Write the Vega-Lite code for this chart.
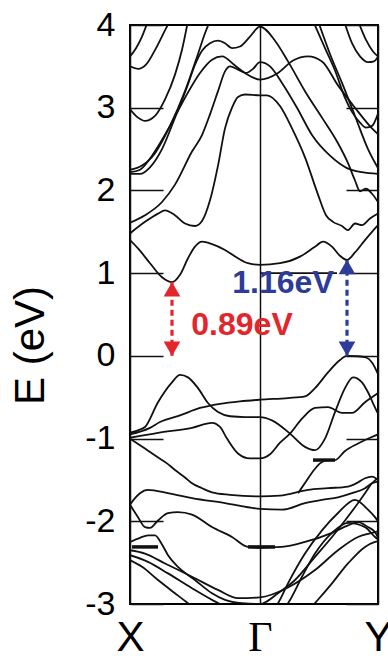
{
  "$schema": "https://vega.github.io/schema/vega-lite/v6.json",
  "width": 248,
  "height": 579,
  "autosize": {"type": "none"},
  "padding": {"left": 130, "top": 25, "right": 10, "bottom": 55},
  "background": "white",
  "config": {
    "view": {"stroke": "black", "strokeWidth": 2},
    "font": "Liberation Sans"
  },
  "datasets": {
    "bands": [
      {"b":"C0","k":130,"E":1.0},{"b":"C0","k":207,"E":1.0},

      {"b":"C1","k":0,"E":1.40},{"b":"C1","k":8,"E":1.30},{"b":"C1","k":20,"E":1.12},{"b":"C1","k":32,"E":0.95},{"b":"C1","k":42,"E":0.89},{"b":"C1","k":50,"E":0.98},{"b":"C1","k":58,"E":1.18},{"b":"C1","k":65,"E":1.32},{"b":"C1","k":72,"E":1.38},{"b":"C1","k":82,"E":1.35},{"b":"C1","k":95,"E":1.28},{"b":"C1","k":108,"E":1.18},{"b":"C1","k":118,"E":1.12},{"b":"C1","k":130,"E":1.10},{"b":"C1","k":150,"E":1.12},{"b":"C1","k":170,"E":1.20},{"b":"C1","k":185,"E":1.32},{"b":"C1","k":193,"E":1.38},{"b":"C1","k":202,"E":1.32},{"b":"C1","k":210,"E":1.21},{"b":"C1","k":217,"E":1.16},{"b":"C1","k":225,"E":1.25},{"b":"C1","k":235,"E":1.40},{"b":"C1","k":242,"E":1.50},{"b":"C1","k":248,"E":1.58},

      {"b":"C2","k":0,"E":1.48},{"b":"C2","k":15,"E":1.62},{"b":"C2","k":28,"E":1.72},{"b":"C2","k":35,"E":1.76},{"b":"C2","k":45,"E":1.70},{"b":"C2","k":55,"E":1.60},{"b":"C2","k":65,"E":1.57},{"b":"C2","k":72,"E":1.63},{"b":"C2","k":80,"E":1.88},{"b":"C2","k":88,"E":2.30},{"b":"C2","k":95,"E":2.75},{"b":"C2","k":102,"E":3.00},{"b":"C2","k":108,"E":3.13},{"b":"C2","k":115,"E":3.16},{"b":"C2","k":130,"E":3.15},{"b":"C2","k":137,"E":3.15},{"b":"C2","k":150,"E":3.02},{"b":"C2","k":162,"E":2.75},{"b":"C2","k":175,"E":2.40},{"b":"C2","k":188,"E":1.95},{"b":"C2","k":196,"E":1.70},{"b":"C2","k":203,"E":1.62},{"b":"C2","k":212,"E":1.57},{"b":"C2","k":218,"E":1.52},{"b":"C2","k":225,"E":1.60},{"b":"C2","k":232,"E":1.58},{"b":"C2","k":240,"E":1.66},{"b":"C2","k":248,"E":1.72},

      {"b":"C3","k":0,"E":1.61},{"b":"C3","k":15,"E":1.70},{"b":"C3","k":32,"E":1.86},{"b":"C3","k":45,"E":2.07},{"b":"C3","k":62,"E":2.47},{"b":"C3","k":72,"E":2.67},{"b":"C3","k":80,"E":2.92},{"b":"C3","k":88,"E":3.20},{"b":"C3","k":95,"E":3.44},{"b":"C3","k":100,"E":3.50},{"b":"C3","k":108,"E":3.46},{"b":"C3","k":116,"E":3.42},{"b":"C3","k":123,"E":3.47},{"b":"C3","k":130,"E":3.55},{"b":"C3","k":140,"E":3.50},{"b":"C3","k":152,"E":3.30},{"b":"C3","k":167,"E":3.00},{"b":"C3","k":182,"E":2.67},{"b":"C3","k":200,"E":2.42},{"b":"C3","k":217,"E":2.27},{"b":"C3","k":232,"E":2.22},{"b":"C3","k":248,"E":2.20},

      {"b":"C4","k":0,"E":2.22},{"b":"C4","k":10,"E":2.25},{"b":"C4","k":22,"E":2.42},{"b":"C4","k":40,"E":2.78},{"b":"C4","k":55,"E":3.12},{"b":"C4","k":70,"E":3.42},{"b":"C4","k":82,"E":3.58},{"b":"C4","k":92,"E":3.62},{"b":"C4","k":105,"E":3.51},{"b":"C4","k":115,"E":3.42},{"b":"C4","k":130,"E":3.34},{"b":"C4","k":148,"E":3.42},{"b":"C4","k":163,"E":3.57},{"b":"C4","k":178,"E":3.62},{"b":"C4","k":192,"E":3.56},{"b":"C4","k":208,"E":3.27},{"b":"C4","k":225,"E":3.00},{"b":"C4","k":242,"E":2.75},{"b":"C4","k":248,"E":2.68},

      {"b":"C5","k":0,"E":2.20},{"b":"C5","k":10,"E":2.20},{"b":"C5","k":20,"E":2.28},{"b":"C5","k":32,"E":2.50},{"b":"C5","k":45,"E":2.88},{"b":"C5","k":57,"E":3.25},{"b":"C5","k":65,"E":3.52},{"b":"C5","k":72,"E":3.69},{"b":"C5","k":80,"E":3.78},{"b":"C5","k":88,"E":3.81},{"b":"C5","k":95,"E":3.78},{"b":"C5","k":102,"E":3.72},{"b":"C5","k":110,"E":3.74},{"b":"C5","k":120,"E":3.86},{"b":"C5","k":130,"E":3.98},{"b":"C5","k":145,"E":3.81},{"b":"C5","k":158,"E":3.56},{"b":"C5","k":175,"E":3.20},{"b":"C5","k":192,"E":2.88},{"b":"C5","k":208,"E":2.57},{"b":"C5","k":218,"E":2.33},{"b":"C5","k":225,"E":2.12},{"b":"C5","k":230,"E":1.99},{"b":"C5","k":236,"E":2.02},{"b":"C5","k":242,"E":1.96},{"b":"C5","k":248,"E":1.86},

      {"b":"C6","k":0,"E":2.25},{"b":"C6","k":12,"E":2.30},{"b":"C6","k":25,"E":2.45},{"b":"C6","k":40,"E":2.78},{"b":"C6","k":55,"E":3.20},{"b":"C6","k":68,"E":3.65},{"b":"C6","k":75,"E":3.90},{"b":"C6","k":80,"E":4.05},

      {"b":"LA","k":0,"E":3.62},{"b":"LA","k":6,"E":3.72},{"b":"LA","k":12,"E":3.86},{"b":"LA","k":18,"E":4.05},
      {"b":"LB","k":0,"E":3.50},{"b":"LB","k":8,"E":3.47},{"b":"LB","k":16,"E":3.52},{"b":"LB","k":26,"E":3.72},{"b":"LB","k":36,"E":3.96},{"b":"LB","k":40,"E":4.05},
      {"b":"LC","k":0,"E":2.98},{"b":"LC","k":8,"E":2.88},{"b":"LC","k":15,"E":2.84},{"b":"LC","k":25,"E":2.90},{"b":"LC","k":35,"E":3.10},{"b":"LC","k":45,"E":3.40},{"b":"LC","k":52,"E":3.70},{"b":"LC","k":58,"E":4.05},

      {"b":"RA","k":183,"E":4.05},{"b":"RA","k":195,"E":3.72},{"b":"RA","k":205,"E":3.45},{"b":"RA","k":215,"E":3.12},{"b":"RA","k":222,"E":2.95},{"b":"RA","k":230,"E":2.82},{"b":"RA","k":236,"E":2.76},{"b":"RA","k":242,"E":2.78},{"b":"RA","k":248,"E":2.93},
      {"b":"RB","k":188,"E":4.05},{"b":"RB","k":200,"E":3.65},{"b":"RB","k":212,"E":3.30},{"b":"RB","k":225,"E":2.90},{"b":"RB","k":238,"E":2.50},{"b":"RB","k":248,"E":2.27},
      {"b":"RC","k":214,"E":4.05},{"b":"RC","k":222,"E":3.78},{"b":"RC","k":230,"E":3.62},{"b":"RC","k":238,"E":3.55},{"b":"RC","k":244,"E":3.56},{"b":"RC","k":248,"E":3.62},
      {"b":"RD","k":228,"E":4.05},{"b":"RD","k":236,"E":3.82},{"b":"RD","k":243,"E":3.68},{"b":"RD","k":248,"E":3.62},

      {"b":"V1","k":0,"E":-0.93},{"b":"V1","k":8,"E":-0.90},{"b":"V1","k":15,"E":-0.86},{"b":"V1","k":28,"E":-0.56},{"b":"V1","k":42,"E":-0.32},{"b":"V1","k":50,"E":-0.23},{"b":"V1","k":58,"E":-0.26},{"b":"V1","k":68,"E":-0.39},{"b":"V1","k":78,"E":-0.57},{"b":"V1","k":88,"E":-0.68},{"b":"V1","k":100,"E":-0.73},{"b":"V1","k":115,"E":-0.74},{"b":"V1","k":130,"E":-0.74},{"b":"V1","k":142,"E":-0.78},{"b":"V1","k":160,"E":-0.94},{"b":"V1","k":175,"E":-1.10},{"b":"V1","k":185,"E":-1.14},{"b":"V1","k":195,"E":-1.00},{"b":"V1","k":205,"E":-0.68},{"b":"V1","k":215,"E":-0.39},{"b":"V1","k":223,"E":-0.26},{"b":"V1","k":232,"E":-0.32},{"b":"V1","k":238,"E":-0.44},{"b":"V1","k":244,"E":-0.60},{"b":"V1","k":248,"E":-0.70},

      {"b":"V2","k":0,"E":-0.95},{"b":"V2","k":20,"E":-0.87},{"b":"V2","k":30,"E":-0.80},{"b":"V2","k":50,"E":-0.72},{"b":"V2","k":70,"E":-0.63},{"b":"V2","k":90,"E":-0.58},{"b":"V2","k":110,"E":-0.55},{"b":"V2","k":130,"E":-0.53},{"b":"V2","k":158,"E":-0.51},{"b":"V2","k":175,"E":-0.49},{"b":"V2","k":185,"E":-0.39},{"b":"V2","k":198,"E":-0.20},{"b":"V2","k":210,"E":-0.05},{"b":"V2","k":217,"E":0.0},{"b":"V2","k":228,"E":-0.005},{"b":"V2","k":236,"E":-0.02},{"b":"V2","k":242,"E":-0.08},{"b":"V2","k":248,"E":-0.22},

      {"b":"V3","k":0,"E":-0.99},{"b":"V3","k":28,"E":-0.93},{"b":"V3","k":62,"E":-0.87},{"b":"V3","k":82,"E":-0.81},{"b":"V3","k":90,"E":-0.86},{"b":"V3","k":97,"E":-1.00},{"b":"V3","k":108,"E":-1.18},{"b":"V3","k":120,"E":-1.24},{"b":"V3","k":130,"E":-1.24},{"b":"V3","k":140,"E":-1.19},{"b":"V3","k":150,"E":-1.05},{"b":"V3","k":160,"E":-0.94},{"b":"V3","k":172,"E":-0.76},{"b":"V3","k":185,"E":-0.63},{"b":"V3","k":198,"E":-0.62},{"b":"V3","k":212,"E":-0.69},{"b":"V3","k":222,"E":-0.69},{"b":"V3","k":235,"E":-0.56},{"b":"V3","k":242,"E":-0.50},{"b":"V3","k":248,"E":-0.45},

      {"b":"V4","k":0,"E":-1.00},{"b":"V4","k":15,"E":-1.12},{"b":"V4","k":27,"E":-1.22},{"b":"V4","k":37,"E":-1.30},{"b":"V4","k":45,"E":-1.38},{"b":"V4","k":55,"E":-1.47},{"b":"V4","k":62,"E":-1.54},{"b":"V4","k":72,"E":-1.60},{"b":"V4","k":82,"E":-1.65},{"b":"V4","k":100,"E":-1.68},{"b":"V4","k":130,"E":-1.70},{"b":"V4","k":150,"E":-1.69},{"b":"V4","k":178,"E":-1.62},{"b":"V4","k":198,"E":-1.60},{"b":"V4","k":218,"E":-1.58},{"b":"V4","k":228,"E":-1.53},{"b":"V4","k":235,"E":-1.48},{"b":"V4","k":242,"E":-1.46},{"b":"V4","k":248,"E":-1.50},

      {"b":"V5","k":0,"E":-1.80},{"b":"V5","k":5,"E":-1.72},{"b":"V5","k":10,"E":-1.66},{"b":"V5","k":18,"E":-1.62},{"b":"V5","k":38,"E":-1.66},{"b":"V5","k":62,"E":-1.72},{"b":"V5","k":95,"E":-1.78},{"b":"V5","k":130,"E":-1.85},{"b":"V5","k":152,"E":-1.86},{"b":"V5","k":175,"E":-1.78},{"b":"V5","k":192,"E":-1.74},{"b":"V5","k":208,"E":-1.71},{"b":"V5","k":222,"E":-1.66},{"b":"V5","k":235,"E":-1.60},{"b":"V5","k":242,"E":-1.54},{"b":"V5","k":248,"E":-1.52},

      {"b":"V6","k":0,"E":-1.80},{"b":"V6","k":8,"E":-1.95},{"b":"V6","k":15,"E":-2.07},{"b":"V6","k":20,"E":-2.08},{"b":"V6","k":28,"E":-1.99},{"b":"V6","k":38,"E":-1.90},{"b":"V6","k":48,"E":-1.89},{"b":"V6","k":62,"E":-1.92},{"b":"V6","k":82,"E":-2.07},{"b":"V6","k":102,"E":-2.19},{"b":"V6","k":118,"E":-2.31},{"b":"V6","k":130,"E":-2.32},{"b":"V6","k":152,"E":-2.31},{"b":"V6","k":175,"E":-2.25},{"b":"V6","k":202,"E":-2.14},{"b":"V6","k":218,"E":-2.05},{"b":"V6","k":228,"E":-2.01},{"b":"V6","k":238,"E":-2.07},{"b":"V6","k":245,"E":-2.13},{"b":"V6","k":248,"E":-2.20},

      {"b":"V7","k":168,"E":-1.66},{"b":"V7","k":176,"E":-1.52},{"b":"V7","k":184,"E":-1.38},{"b":"V7","k":190,"E":-1.30},{"b":"V7","k":198,"E":-1.26},{"b":"V7","k":205,"E":-1.26},{"b":"V7","k":215,"E":-1.15},{"b":"V7","k":228,"E":-1.06},{"b":"V7","k":240,"E":-0.99},{"b":"V7","k":248,"E":-0.95},

      {"b":"W1","k":0,"E":-2.25},{"b":"W1","k":10,"E":-2.20},{"b":"W1","k":18,"E":-2.17},{"b":"W1","k":25,"E":-2.17},{"b":"W1","k":32,"E":-2.28},{"b":"W1","k":38,"E":-2.41},{"b":"W1","k":48,"E":-2.55},{"b":"W1","k":65,"E":-2.71},{"b":"W1","k":82,"E":-2.87},{"b":"W1","k":95,"E":-2.95},{"b":"W1","k":112,"E":-2.99},{"b":"W1","k":130,"E":-3.0},{"b":"W1","k":148,"E":-2.87},{"b":"W1","k":165,"E":-2.71},{"b":"W1","k":185,"E":-2.43},{"b":"W1","k":202,"E":-2.19},{"b":"W1","k":215,"E":-1.99},{"b":"W1","k":225,"E":-1.83},{"b":"W1","k":235,"E":-1.66},{"b":"W1","k":242,"E":-1.54},{"b":"W1","k":248,"E":-1.48},

      {"b":"W2","k":0,"E":-2.35},{"b":"W2","k":15,"E":-2.39},{"b":"W2","k":35,"E":-2.51},{"b":"W2","k":62,"E":-2.67},{"b":"W2","k":88,"E":-2.83},{"b":"W2","k":108,"E":-2.93},{"b":"W2","k":130,"E":-2.92},{"b":"W2","k":158,"E":-2.80},{"b":"W2","k":185,"E":-2.59},{"b":"W2","k":208,"E":-2.35},{"b":"W2","k":228,"E":-2.19},{"b":"W2","k":242,"E":-2.14},{"b":"W2","k":248,"E":-2.12},

      {"b":"W3","k":0,"E":-2.41},{"b":"W3","k":18,"E":-2.49},{"b":"W3","k":38,"E":-2.63},{"b":"W3","k":62,"E":-2.81},{"b":"W3","k":82,"E":-2.95},{"b":"W3","k":90,"E":-3.0},{"b":"W3","k":98,"E":-3.06},
      {"b":"W4","k":143,"E":-3.06},{"b":"W4","k":148,"E":-2.99},{"b":"W4","k":158,"E":-2.75},{"b":"W4","k":175,"E":-2.39},{"b":"W4","k":192,"E":-2.11},{"b":"W4","k":208,"E":-1.90},{"b":"W4","k":225,"E":-1.74},{"b":"W4","k":238,"E":-1.86},{"b":"W4","k":245,"E":-1.95},{"b":"W4","k":248,"E":-2.00},
      {"b":"W5","k":0,"E":-2.47},{"b":"W5","k":12,"E":-2.55},{"b":"W5","k":28,"E":-2.71},{"b":"W5","k":45,"E":-2.87},{"b":"W5","k":58,"E":-2.99},{"b":"W5","k":66,"E":-3.06},
      {"b":"W6","k":153,"E":-3.06},{"b":"W6","k":158,"E":-2.99},{"b":"W6","k":172,"E":-2.67},{"b":"W6","k":185,"E":-2.39},{"b":"W6","k":202,"E":-2.14},{"b":"W6","k":218,"E":-2.02},{"b":"W6","k":235,"E":-2.07},{"b":"W6","k":245,"E":-2.19},{"b":"W6","k":248,"E":-2.22},
      {"b":"W7","k":180,"E":-3.06},{"b":"W7","k":185,"E":-2.99},{"b":"W7","k":202,"E":-2.75},{"b":"W7","k":218,"E":-2.51},{"b":"W7","k":235,"E":-2.31},{"b":"W7","k":245,"E":-2.25},{"b":"W7","k":248,"E":-2.24}
    ],
    "flatPieces": [
      {"p":"a","k":2,"E":-2.31},{"p":"a","k":28,"E":-2.31},
      {"p":"b","k":118,"E":-2.31},{"p":"b","k":145,"E":-2.31},
      {"p":"c","k":183,"E":-1.26},{"p":"c","k":205,"E":-1.26}
    ],
    "gaps": [
      {"gap":"0.89eV","k":42,"lo":0,"hi":0.89,"labelK":112,"labelE":0.37},
      {"gap":"1.16eV","k":217,"lo":0,"hi":1.16,"labelK":153,"labelE":0.88}
    ]
  },
  "layer": [
    {
      "data": {"name": "bands"},
      "mark": {"type": "line", "interpolate": "monotone", "clip": true, "color": "#111111", "strokeWidth": 1.8},
      "encoding": {
        "x": {
          "field": "k", "type": "quantitative",
          "scale": {"domain": [0, 248], "nice": false, "zero": false},
          "axis": {
            "orient": "bottom", "values": [0, 130, 248],
            "labelExpr": "datum.value == 0 ? 'X' : datum.value == 130 ? 'Γ' : 'Y'",
            "labelFont": {"condition": {"test": "datum.value == 130", "value": "Liberation Serif"}, "value": "Liberation Sans"},
            "ticks": false, "domain": false,
            "grid": true, "gridColor": "#111111", "gridWidth": 1.5, "gridOpacity": 1,
            "labelFontSize": 42, "labelPadding": 13, "labelColor": "black",
            "labelFlush": false, "labelOverlap": false, "title": null
          }
        },
        "y": {
          "field": "E", "type": "quantitative",
          "scale": {"domain": [-3, 4], "nice": false, "zero": false},
          "axis": {
            "orient": "left", "values": [-3, -2, -1, 0, 1, 2, 3, 4],
            "labelExpr": "datum.value < 0 ? '-' + abs(datum.value) : '' + datum.value",
            "tickSize": -33, "tickWidth": 1.5, "tickColor": "#111111",
            "labelPadding": 48, "labelFontSize": 34, "labelColor": "black",
            "labelFlush": false, "labelOverlap": false,
            "domain": false, "grid": false,
            "title": "E (eV)", "titleFontSize": 42, "titleFontWeight": "normal", "titleColor": "black",
            "titleX": -100, "titleY": 320, "titleAngle": 270, "titleAlign": "center", "titleBaseline": "middle"
          }
        },
        "detail": {"field": "b", "type": "nominal"}
      }
    },
    {
      "data": {"name": "flatPieces"},
      "mark": {"type": "line", "clip": true, "color": "#111111", "strokeWidth": 3.5},
      "encoding": {
        "x": {"field": "k", "type": "quantitative"},
        "y": {"field": "E", "type": "quantitative", "axis": null},
        "detail": {"field": "p", "type": "nominal"}
      }
    },
    {
      "mark": {"type": "rule", "color": "#111111", "strokeWidth": 1.6, "strokeDash": [11, 6]},
      "encoding": {
        "y": {
          "datum": 0, "type": "quantitative",
          "axis": {
            "orient": "right", "values": [-3, -2, -1, 0, 1, 2, 3, 4],
            "tickSize": -32, "tickWidth": 1.5, "tickColor": "#111111",
            "labels": false, "domain": false, "grid": false, "title": null
          }
        }
      }
    },
    {
      "data": {"name": "gaps"},
      "mark": {"type": "rule", "strokeWidth": 3.2, "strokeDash": [6, 4]},
      "encoding": {
        "x": {"field": "k", "type": "quantitative"},
        "y": {"field": "lo", "type": "quantitative", "axis": null},
        "y2": {"field": "hi"},
        "color": {"field": "gap", "type": "nominal", "scale": {"domain": ["0.89eV", "1.16eV"], "range": ["#e3252c", "#2e3c99"]}, "legend": null}
      }
    },
    {
      "data": {"name": "gaps"},
      "mark": {"type": "point", "shape": "triangle-up", "filled": true, "opacity": 1, "size": 280, "yOffset": 7},
      "encoding": {
        "x": {"field": "k", "type": "quantitative"},
        "y": {"field": "hi", "type": "quantitative", "axis": null},
        "color": {"field": "gap", "type": "nominal", "legend": null}
      }
    },
    {
      "data": {"name": "gaps"},
      "mark": {"type": "point", "shape": "triangle-down", "filled": true, "opacity": 1, "size": 280, "yOffset": -7},
      "encoding": {
        "x": {"field": "k", "type": "quantitative"},
        "y": {"field": "lo", "type": "quantitative", "axis": null},
        "color": {"field": "gap", "type": "nominal", "legend": null}
      }
    },
    {
      "data": {"name": "gaps"},
      "mark": {"type": "text", "fontSize": 32, "fontWeight": "bold", "align": "center", "baseline": "middle"},
      "encoding": {
        "x": {"field": "labelK", "type": "quantitative"},
        "y": {"field": "labelE", "type": "quantitative", "axis": null},
        "text": {"field": "gap"},
        "color": {"field": "gap", "type": "nominal", "legend": null}
      }
    }
  ],
  "resolve": {"axis": {"y": "independent"}}
}
